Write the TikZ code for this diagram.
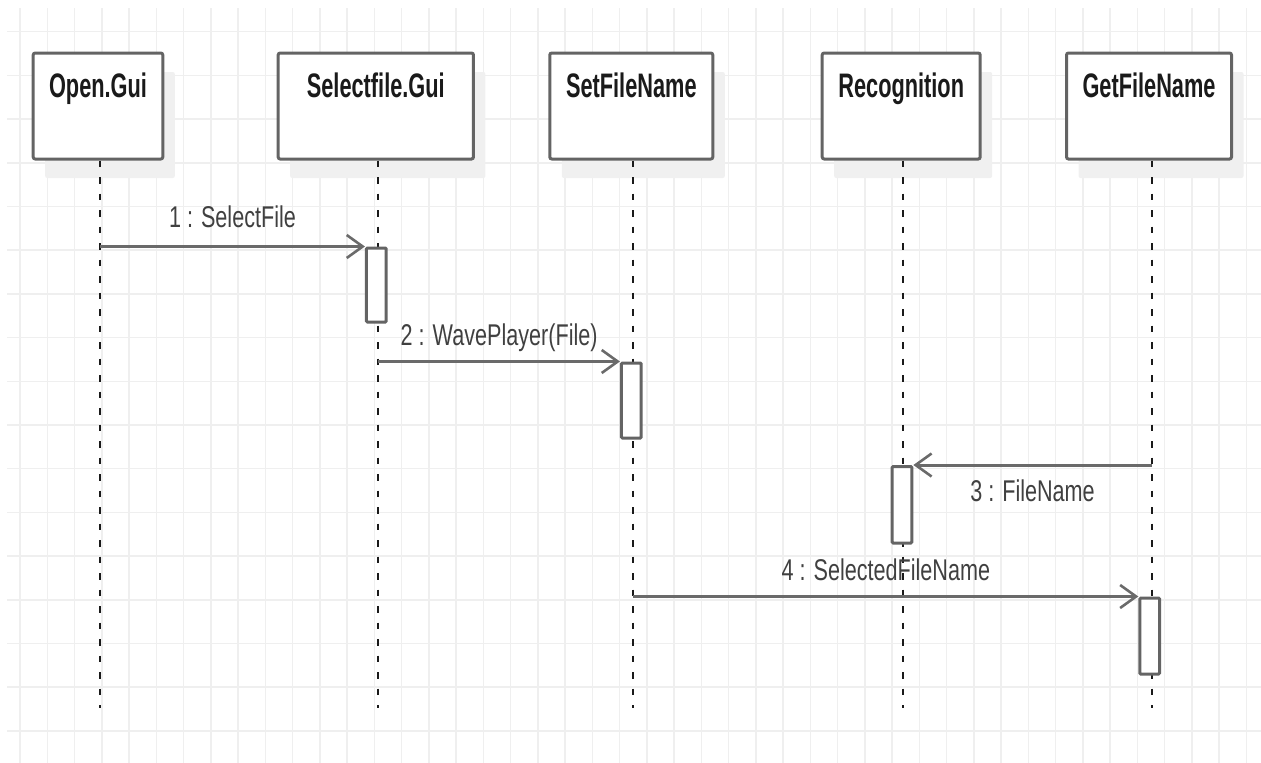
\documentclass[tikz,border=0pt]{standalone}
\usepackage{fontspec}
\setmainfont{Liberation Sans}
\newfontfamily\hdfont{Liberation Sans}[FakeStretch=0.64]
\newfontfamily\msgfont{Liberation Sans}[FakeStretch=0.72]
\usetikzlibrary{arrows.meta,shadows}

\definecolor{gridc}{HTML}{EFEFEF}
\definecolor{shadowc}{HTML}{F0F0F0}
\definecolor{borderc}{HTML}{646464}
\definecolor{arrowc}{HTML}{6A6A6A}
\definecolor{labelc}{HTML}{404040}
\definecolor{titlec}{HTML}{1A1A1A}
\definecolor{lifec}{HTML}{1A1A1A}

\begin{document}
\begin{tikzpicture}[x=1pt,y=-1pt,
  gridline/.style={draw=gridc, line width=1.5pt},
  objbox/.style={draw=borderc, line width=3pt, fill=white, rounded corners=2pt,
    minimum width=#1, minimum height=106pt, inner sep=0pt, anchor=north,
    drop shadow={shadow xshift=12pt, shadow yshift=-19pt, fill=shadowc, opacity=1}},
  objname/.style={font=\hdfont\fontsize{34}{34}\selectfont\bfseries, text=titlec,
    anchor=base, inner sep=0pt},
  life/.style={draw=lifec, line width=2.2pt, dash pattern=on 6.5pt off 10pt},
  actbar/.style={draw=borderc, line width=3pt, fill=white, rounded corners=1pt,
    minimum width=19.7pt, minimum height=#1, inner sep=0pt},
  msg/.style={draw=arrowc, line width=3pt,
    -{Straight Barb[length=16pt, width=23pt, line width=2.6pt]}},
  msglabel/.style={font=\msgfont\fontsize{30}{30}\selectfont, text=labelc,
    anchor=base, inner sep=0pt}
]
\useasboundingbox (0,0) rectangle (1261,763);

% background grid
\begin{scope}
  \clip (7,8) rectangle (1261,763);
  \foreach \i in {0,...,45} \draw[gridline] ({20+27.25*\i},8) -- ({20+27.25*\i},763);
  \foreach \j in {0,...,16} \draw[gridline] (7,{31.7+43.7*\j}) -- (1261,{31.7+43.7*\j});
\end{scope}

% object boxes
\node[objbox=129.6pt] (openbox)   at (98,51.5)    {};
\node[objbox=195.3pt] (selectbox) at (375.8,51.5) {};
\node[objbox=163pt]   (setbox)    at (631.3,51.5) {};
\node[objbox=158pt]   (recogbox)  at (901.2,51.5) {};
\node[objbox=165pt]   (getbox)    at (1149,51.5)  {};

\node[objname] (openname)   at (98,97)    {Open.Gui};
\node[objname] (selectname) at (375.8,97) {Selectfile.Gui};
\node[objname] (setname)    at (631.3,97) {SetFileName};
\node[objname] (recogname)  at (901.2,97) {Recognition};
\node[objname] (getname)    at (1149,97)  {GetFileName};

% lifeline ends
\coordinate (openend)   at (100,708);
\coordinate (selectend) at (378.3,708);
\coordinate (setend)    at (633.3,708);
\coordinate (recogend)  at (903.3,708);
\coordinate (getend)    at (1151.7,708);

\draw[life] (openend |- openbox.south)     -- (openend);
\draw[life] (selectend |- selectbox.south) -- (selectend);
\draw[life] (setend |- setbox.south)       -- (setend);
\draw[life] (recogend |- recogbox.south)   -- (recogend);
\draw[life] (getend |- getbox.south)       -- (getend);

% activation bars
\node[actbar=74pt]   (act1) at (376.3,285)   {};
\node[actbar=75pt]   (act2) at (631.3,400.5) {};
\node[actbar=76.5pt] (act3) at (902,504.75)  {};
\node[actbar=76pt]   (act4) at (1149.7,636)  {};

% messages
\draw[msg] (openend |- act1.north) -- (act1.north west)
  node[msglabel, midway, yshift=19pt] (lab1) {1 : SelectFile};
\draw[msg] (selectend |- act2.north) -- (act2.north west)
  node[msglabel, midway, yshift=16.3pt] (lab2) {2 : WavePlayer(File)};
\draw[msg] (getend |- act3.north) -- (act3.north east)
  node[msglabel, midway, yshift=-36.5pt] (lab3) {3 : FileName};
\draw[msg] (setend |- act4.north) -- (act4.north west)
  node[msglabel, midway, yshift=16.3pt] (lab4) {4 : SelectedFileName};

\end{tikzpicture}
\end{document}
